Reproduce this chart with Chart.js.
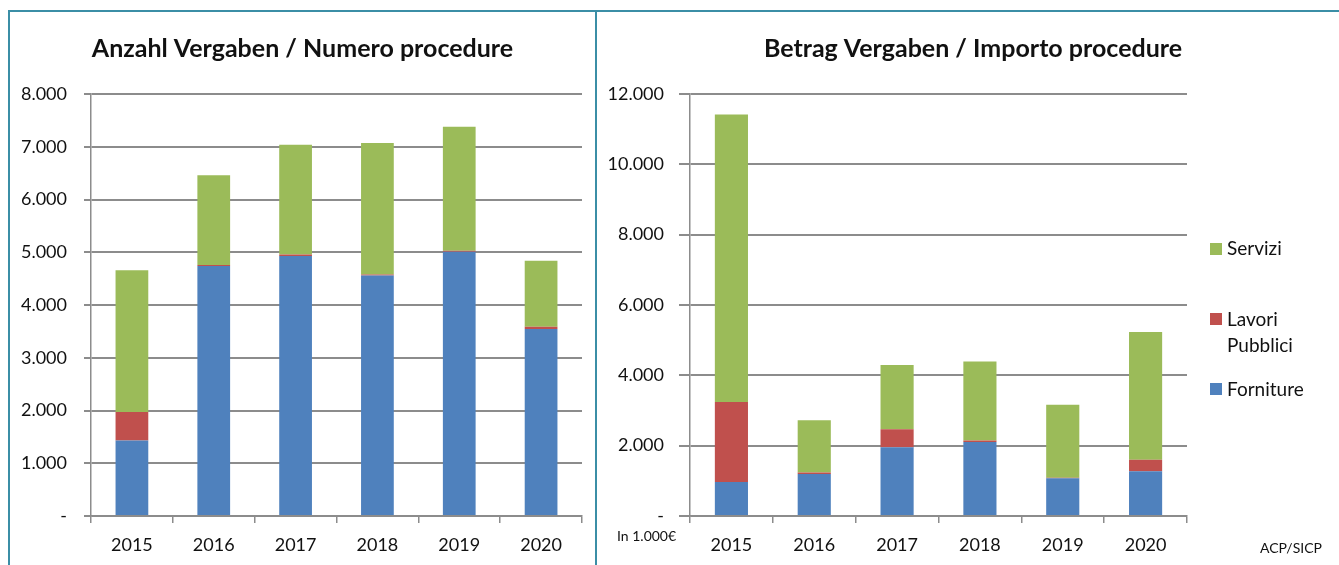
<!DOCTYPE html>
<html>
<head>
<meta charset="utf-8">
<script src="https://cdn.jsdelivr.net/npm/chart.js@4.4.1/dist/chart.umd.min.js"></script>
<style>
  html, body { margin: 0; padding: 0; background: #fff; overflow: hidden; }
  body { width: 1339px; height: 565px; position: relative; font-family: Lato, "Open Sans", sans-serif; color: #111; }
  #frame { position: absolute; left: 8px; top: 10px; width: 1400px; height: 600px; border: 2px solid #3b8ea6; box-sizing: border-box; }
  #divider { position: absolute; left: 595px; top: 10px; width: 2px; height: 600px; background: #3b8ea6; }
  .cv { position: absolute; }
  #c1wrap { left: 10px; top: 12px; width: 585px; height: 553px; }
  #c2wrap { left: 597px; top: 12px; width: 742px; height: 553px; }
  .lg { position: absolute; left: 1227px; font-size: 19px; line-height: 26px; white-space: nowrap; }
  .sq { position: absolute; left: 1210px; width: 12px; height: 12px; }
  .note { position: absolute; font-size: 14px; line-height: 16px; white-space: nowrap; }
</style>
</head>
<body>
<div id="frame"></div>
<div id="divider"></div>
<div class="cv" id="c1wrap"><canvas id="c1"></canvas></div>
<div class="cv" id="c2wrap"><canvas id="c2"></canvas></div>

<div class="sq" style="top:243px;background:#9bbb59"></div>
<div class="lg" style="top:235px">Servizi</div>
<div class="sq" style="top:313px;background:#c0504d"></div>
<div class="lg" style="top:306px">Lavori<br>Pubblici</div>
<div class="sq" style="top:383px;background:#4f81bd"></div>
<div class="lg" style="top:376px">Forniture</div>

<div class="note" style="left:617px;top:528px">In 1.000€</div>
<div class="note" style="left:1260px;top:540px">ACP/SICP</div>

<script>
// ---- data ----
const years = ['2015', '2016', '2017', '2018', '2019', '2020'];
const seriesNames = ['Forniture', 'Lavori Pubblici', 'Servizi'];

// Anzahl Vergaben / Numero procedure
const fornitureCount = [1430, 4740, 4930, 4560, 5010, 3545];
const lavoriCount    = [540, 20, 25, 20, 20, 45];
const serviziCount   = [2690, 1700, 2085, 2490, 2350, 1247];

// Betrag Vergaben / Importo procedure (in 1.000 €)
const fornitureAmount = [970, 1195, 1955, 2105, 1072, 1270];
const lavoriAmount    = [2270, 45, 510, 40, 18, 330];
const serviziAmount   = [8180, 1480, 1830, 2245, 2070, 3630];

const yTickLabelsLeft  = ['-', '1.000', '2.000', '3.000', '4.000', '5.000', '6.000', '7.000', '8.000'];
const yTickLabelsRight = ['-', '2.000', '4.000', '6.000', '8.000', '10.000', '12.000'];

const titleLeft  = 'Anzahl Vergaben / Numero procedure';
const titleRight = 'Betrag Vergaben / Importo procedure';

// ---- styles ----
const colors = ['#4f81bd', '#c0504d', '#9bbb59'];
const gridColor = '#8c8c8c';
const FONT = 'Lato, "Open Sans", sans-serif';

function makeDatasets(a, b, c) {
  return [a, b, c].map((d, i) => ({
    label: seriesNames[i],
    data: d,
    backgroundColor: colors[i],
    borderWidth: 0,
    barPercentage: 0.4,
    categoryPercentage: 1.0,
    stack: 's'
  }));
}

function makeOptions(cfg) {
  const scales = {
    x: {
      stacked: true,
      offset: true,
      grid: { display: true, drawOnChartArea: false, drawTicks: true, tickLength: 7, color: gridColor, lineWidth: 1.5, offset: true },
      border: { display: true, color: gridColor, width: 1.5 },
      ticks: { color: '#111', font: { family: FONT, size: 18 }, padding: 11 },
      afterFit: s => { s.height = cfg.xHeight; }
    },
    y: {
      stacked: true,
      min: 0, max: cfg.max,
      ticks: {
        stepSize: cfg.step, color: '#111', font: { family: FONT, size: 18 }, padding: cfg.tickPad,
        callback: (v, i) => cfg.labels[i]
      },
      grid: { color: gridColor, lineWidth: 2, drawTicks: true, tickLength: cfg.tickLen },
      border: { display: true, color: gridColor, width: 1.5 },
      afterFit: s => { s.width = cfg.yWidth; }
    },
    yR: {
      position: 'right', display: true,
      grid: { display: false, drawTicks: false }, border: { display: false },
      ticks: { display: false },
      afterFit: s => { s.width = cfg.rightReserve; }
    }
  };
  return {
    responsive: true, maintainAspectRatio: false, animation: false,
    layout: { padding: cfg.padding },
    plugins: {
      legend: { display: false },
      tooltip: { enabled: false },
      title: {
        display: true, text: cfg.title, color: '#111',
        font: { family: FONT, size: 25, weight: 'bold', lineHeight: 1.2 },
        padding: { top: 22, bottom: 30 }
      }
    },
    scales
  };
}

new Chart(document.getElementById('c1'), {
  type: 'bar',
  data: { labels: years, datasets: makeDatasets(fornitureCount, lavoriCount, serviziCount) },
  options: makeOptions({
    title: titleLeft, max: 8000, step: 1000, labels: yTickLabelsLeft,
    tickPad: 17, tickLen: 7, yWidth: 81, xHeight: 49, rightReserve: 13,
    padding: { left: 0, right: 0, top: 0, bottom: 0 }
  })
});

new Chart(document.getElementById('c2'), {
  type: 'bar',
  data: { labels: years, datasets: makeDatasets(fornitureAmount, lavoriAmount, serviziAmount) },
  options: makeOptions({
    title: titleRight, max: 12000, step: 2000, labels: yTickLabelsRight,
    tickPad: 15, tickLen: 11, yWidth: 83, xHeight: 49, rightReserve: 152,
    padding: { left: 10, right: 0, top: 0, bottom: 0 }
  })
});
</script>
</body>
</html>
